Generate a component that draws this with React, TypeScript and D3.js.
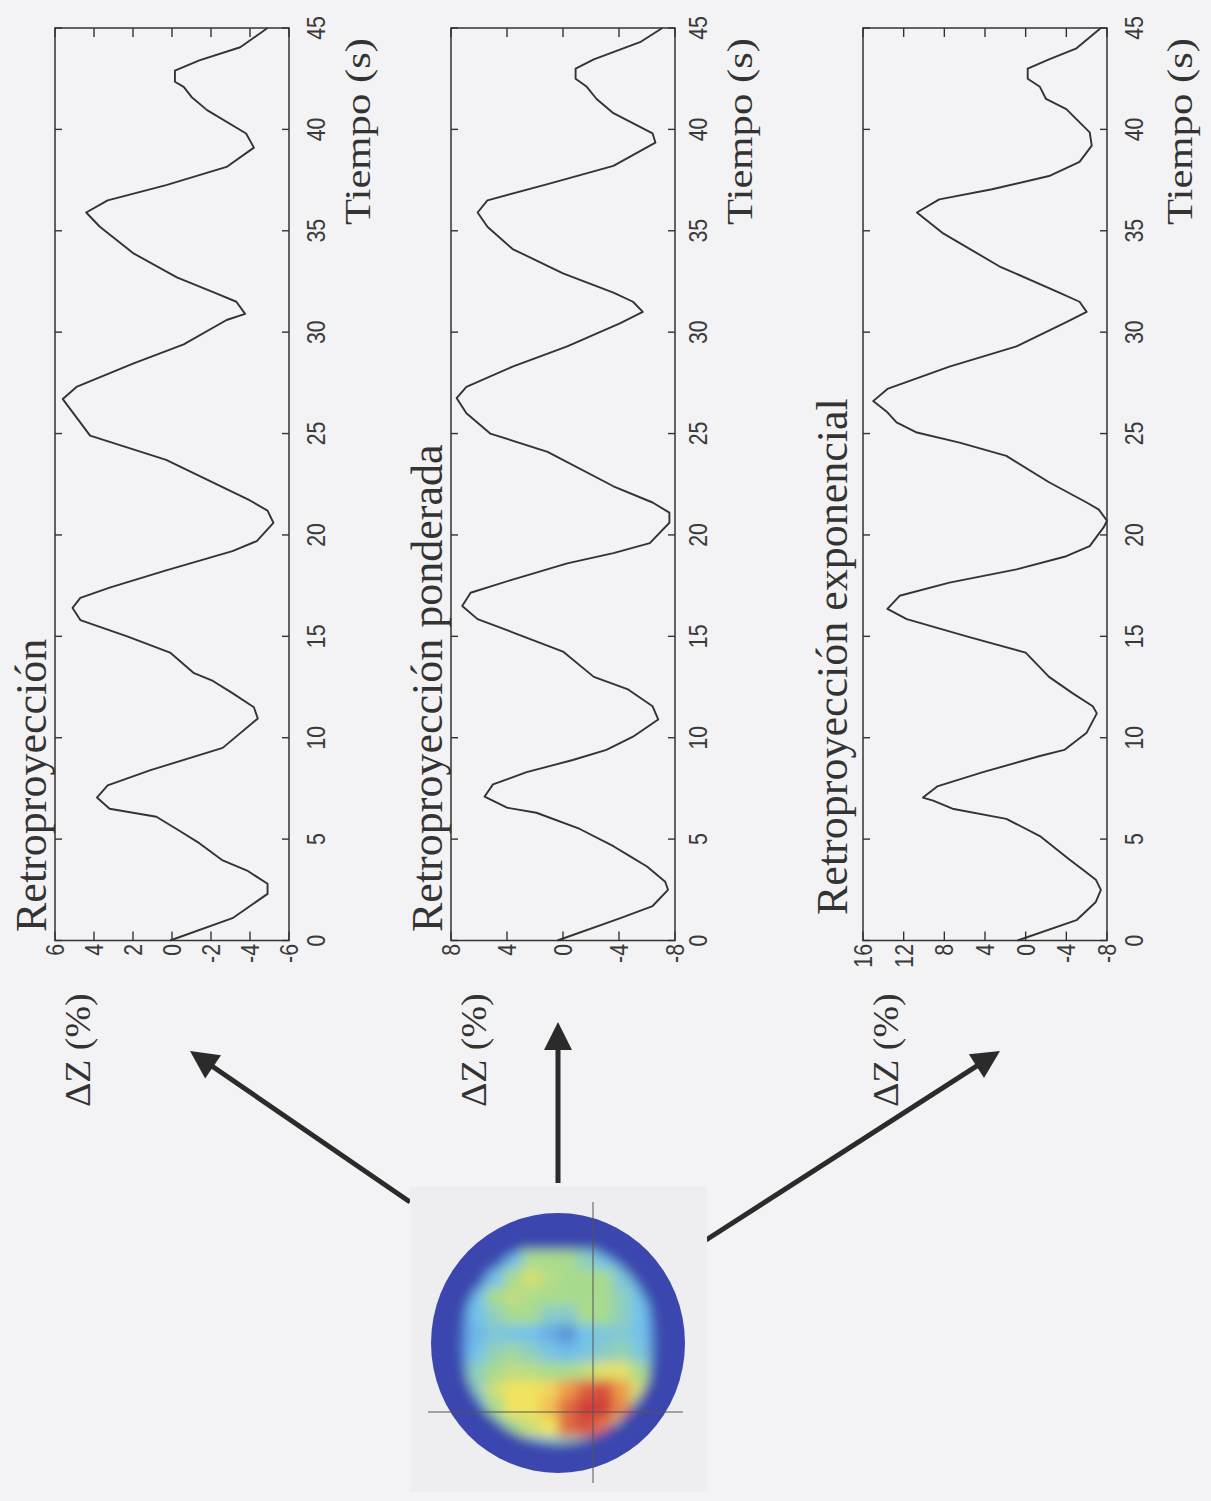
import React from "react";
import * as d3 from "d3";

// ---------- data ----------
const timeTicks = [0, 5, 10, 15, 20, 25, 30, 35, 40, 45];
const titles = ["Retroproyección", "Retroproyección ponderada", "Retroproyección exponencial"];
const yLabel = "ΔZ (%)";
const xLabel = "Tiempo (s)";

const ticks1 = [6, 4, 2, 0, -2, -4, -6];
const ticks2 = [8, 4, 0, -4, -8];
const ticks3 = [16, 12, 8, 4, 0, -4, -8];

const t1 = [0, 1.1, 2.3, 2.8, 3.45, 3.95, 4.8, 5.4, 6.1, 6.3, 6.5, 7.05, 7.65, 8.4, 9.5, 10.95, 11.5, 12.2, 12.8, 13.2, 14.2, 15.0, 15.8, 16.4, 16.9, 17.4, 18.25, 19.2, 19.7, 20.6, 21.2, 21.7, 23.7, 24.9, 25.8, 26.7, 27.3, 28.45, 29.4, 30.6, 30.9, 31.5, 31.9, 32.7, 33.9, 35.2, 35.9, 36.5, 37.25, 38.15, 39.1, 39.8, 40.95, 41.6, 42.1, 42.35, 42.9, 43.4, 44.05, 45];
const v1 = [0.1, -3.1, -4.9, -4.9, -3.85, -2.6, -1.4, -0.4, 0.8, 2.0, 3.2, 3.85, 3.3, 1.1, -2.6, -4.4, -4.2, -3.1, -2.1, -1.1, 0.1, 2.3, 4.7, 5.1, 4.7, 3.2, 0.3, -3.1, -4.35, -5.2, -4.9, -4.0, 0.3, 4.2, 4.9, 5.6, 4.9, 2.0, -0.6, -2.8, -3.75, -3.3, -2.3, -0.25, 2.0, 3.7, 4.4, 3.3, 0.3, -2.8, -4.2, -3.8, -1.8, -1.0, -0.6, -0.15, -0.15, -1.4, -3.5, -4.9];

const t2 = [0, 1.1, 1.7, 2.5, 2.9, 3.65, 4.15, 4.65, 5.5, 6.3, 6.55, 7.1, 7.7, 8.3, 8.9, 9.4, 10.05, 10.9, 11.55, 12.4, 13.0, 14.25, 15.2, 15.85, 16.5, 17.15, 17.8, 18.6, 19.1, 19.6, 20.6, 21.1, 21.6, 22.4, 24.1, 25.0, 26.0, 26.75, 27.3, 28.3, 29.3, 30.45, 31.0, 31.5, 31.95, 32.9, 34.1, 35.2, 35.9, 36.5, 37.3, 38.2, 39.35, 39.8, 40.8, 41.5, 42.1, 42.5, 43.0, 43.45, 44.3, 45];
const v2 = [0.4, -4.1, -6.4, -7.5, -7.3, -6.0, -4.8, -3.6, -1.2, 1.9, 4.0, 5.6, 5.0, 2.6, -0.7, -3.1, -5.0, -6.8, -6.4, -4.6, -2.2, 0.0, 3.6, 6.1, 7.2, 6.6, 3.6, -0.3, -3.6, -6.2, -7.6, -7.6, -6.4, -3.6, 1.1, 5.2, 6.9, 7.6, 6.9, 3.6, -0.3, -4.1, -5.7, -5.0, -3.6, 0.0, 3.6, 5.4, 6.1, 5.4, 1.1, -3.6, -6.6, -6.4, -3.6, -2.4, -1.7, -0.9, -0.9, -2.2, -5.5, -7.1];

const t3 = [0, 1.0, 1.9, 2.5, 3.0, 3.5, 4.0, 5.15, 6.0, 6.5, 6.9, 7.05, 7.6, 8.3, 9.1, 9.4, 10.25, 11.2, 11.55, 12.2, 13.0, 14.2, 15.0, 15.85, 16.35, 17.0, 17.65, 18.3, 18.95, 19.45, 20.4, 20.7, 21.25, 21.6, 22.6, 23.9, 24.55, 25.05, 25.55, 26.05, 26.6, 27.2, 28.3, 29.3, 30.5, 31.0, 31.5, 31.95, 33.25, 34.9, 35.9, 36.55, 37.05, 37.7, 38.4, 39.2, 39.85, 41.0, 41.5, 42.1, 42.5, 43.0, 43.45, 44.0, 45];
const v3 = [0.8, -5.0, -6.9, -7.4, -6.9, -5.6, -4.3, -1.4, 1.9, 7.2, 9.1, 10.1, 8.7, 4.2, -1.4, -3.8, -6.0, -7.0, -6.6, -4.6, -2.3, 0.0, 5.8, 11.7, 13.6, 12.4, 7.5, 0.9, -4.0, -6.3, -7.7, -8.0, -7.2, -6.0, -2.3, 1.9, 6.5, 10.7, 12.7, 13.6, 15.0, 13.6, 7.5, 0.9, -4.0, -6.0, -5.3, -3.3, 2.6, 8.2, 10.7, 8.5, 3.3, -2.3, -5.3, -6.5, -6.3, -4.0, -2.0, -1.4, -0.2, -0.2, -2.3, -5.0, -7.4];

// EIT image, coarse grid of colour levels (0 dark blue ... 6 red), rows top->bottom
const heatRows = [
  [0, 0, 0, 0, 0, 0, 0, 0, 0, 0, 0, 0, 0, 0],
  [0, 0, 0, 0, 0, 0, 0, 0, 0, 0, 0, 0, 0, 0],
  [0, 0, 0, 1, 2, 3, 3, 3, 2.5, 2, 2, 1, 0, 0],
  [0, 0, 1, 2, 3, 3.6, 3.2, 3, 3, 3, 2.2, 2, 0, 0],
  [0, 1, 2, 3, 3.3, 3.1, 3, 3, 3, 3, 2.5, 2, 1, 0],
  [0, 1, 2, 2.5, 3, 3, 2.4, 2.3, 3, 3, 2.5, 2, 1, 0],
  [0, 1, 1.8, 2.2, 2.1, 2, 1.7, 1.3, 2, 2.2, 2.3, 2, 1, 0],
  [0, 1, 2, 2.6, 2.8, 2.5, 2.1, 1.9, 2.1, 2.4, 2.6, 2.2, 1, 0],
  [0, 1, 2.5, 3, 3.3, 3.2, 3, 3, 3.3, 3.8, 3.8, 3, 1, 0],
  [0, 1, 2.5, 3.5, 4, 4, 4.2, 5, 5.6, 5.8, 5, 3.6, 1, 0],
  [0, 0.8, 2, 3, 4, 4, 4.5, 5.5, 6, 6, 5.2, 3, 1, 0],
  [0, 0.5, 1.5, 2.3, 3, 3.5, 4, 5.5, 5.8, 5.4, 3.6, 2, 0.5, 0],
  [0, 0, 0.5, 1, 1.8, 2, 2.3, 2.6, 2.6, 2.3, 1.5, 1, 0, 0],
  [0, 0, 0, 0, 0, 0, 0, 0, 0, 0, 0, 0, 0, 0],
];
const heatLevels = [0, 1, 2, 3, 4, 5, 6];
const heatColors = ["#3b47ae", "#4f80d4", "#74c2ec", "#a9db8e", "#f1e35e", "#ee9c4a", "#d23c3a"];

// ---------- layout ----------
const W = 1211;
const H = 1501;
const BG = "#f3f3f5";
const INK = "#333";
const panels = [
  { T: t1, V: v1, ticks: ticks1, domain: [6, -6], x0: 55, x1: 289, titleX: 46, titleY: 932, tickLblX: 324, xLblX: 370, yLblX: 90 },
  { T: t2, V: v2, ticks: ticks2, domain: [8, -8], x0: 451, x1: 675, titleX: 442, titleY: 932, tickLblX: 706, xLblX: 752, yLblX: 486 },
  { T: t3, V: v3, ticks: ticks3, domain: [16, -8], x0: 863, x1: 1107, titleX: 847, titleY: 915, tickLblX: 1142, xLblX: 1192, yLblX: 898 },
];
const TOP = 28;
const BOTTOM = 940.5;
const arrows = [
  { x1: 410, y1: 1202, x2: 190, y2: 1051 },
  { x1: 558, y1: 1183, x2: 558, y2: 1022 },
  { x1: 706, y1: 1240, x2: 1000, y2: 1051 },
];
const eit = { cx: 558, cy: 1343, rx: 127, ry: 130, vx: 593, hy: 1412 };

const SANS = "'Liberation Sans', Arial, Helvetica, sans-serif";
const SERIF = "'Liberation Serif', 'Times New Roman', serif";
const TICK_SIZE = 25;

const ts = d3.scaleLinear().domain([0, 45]).range([BOTTOM, TOP]);

function RText(props: any) {
  const { x, y, anchor = "start", size, family, sx = 1, fill = INK, children } = props;
  return (
    <text
      transform={`translate(${x},${y}) rotate(-90) scale(${sx},1)`}
      textAnchor={anchor}
      fontSize={size}
      fontFamily={family}
      fill={fill}
    >
      {children}
    </text>
  );
}

function Panel({ i }: { i: number }) {
  const P = panels[i];
  const vs = d3.scaleLinear().domain(P.domain).range([P.x0, P.x1]);
  const pts: [number, number][] = P.T.map((t, k) => [t, P.V[k]]);
  const line = d3
    .line<[number, number]>()
    .x((d) => vs(d[1]))
    .y((d) => ts(d[0]))
    .curve(d3.curveLinear);
  const TL = 9;
  const TT = 7;
  return (
    <g>
      <defs>
        <clipPath id={`clip${i}`}>
          <rect x={P.x0 - 3} y={TOP - 2} width={P.x1 - P.x0 + 6} height={BOTTOM - TOP + 4} />
        </clipPath>
      </defs>
      {P.ticks.map((v) => (
        <g key={"v" + v}>
          <line x1={vs(v)} x2={vs(v)} y1={TOP} y2={TOP + TL} stroke={INK} strokeWidth={1.4} />
          <line x1={vs(v)} x2={vs(v)} y1={BOTTOM} y2={BOTTOM - TL} stroke={INK} strokeWidth={1.4} />
        </g>
      ))}
      {timeTicks.map((t) => (
        <g key={"t" + t}>
          <line x1={P.x0} x2={P.x0 + TT} y1={ts(t)} y2={ts(t)} stroke={INK} strokeWidth={1.4} />
          <line x1={P.x1} x2={P.x1 - TT} y1={ts(t)} y2={ts(t)} stroke={INK} strokeWidth={1.4} />
        </g>
      ))}
      <rect x={P.x0} y={TOP} width={P.x1 - P.x0} height={BOTTOM - TOP} fill="none" stroke={INK} strokeWidth={1.5} />
      <path d={line(pts) || ""} fill="none" stroke={INK} strokeWidth={1.9} strokeLinejoin="round" clipPath={`url(#clip${i})`} />
      {P.ticks.map((v) => (
        <RText key={"vl" + v} x={vs(v) + 9} y={944} anchor="end" size={TICK_SIZE} family={SANS} sx={0.85} fill="#3a3a3a">
          {String(v)}
        </RText>
      ))}
      {timeTicks.map((t) => (
        <RText key={"tl" + t} x={P.tickLblX + 1} y={ts(t)} anchor="middle" size={TICK_SIZE} family={SANS} sx={0.85} fill="#3a3a3a">
          {String(t)}
        </RText>
      ))}
      <RText x={P.titleX} y={P.titleY} anchor="start" size={44} family={SERIF}>
        {titles[i]}
      </RText>
      <RText x={P.xLblX} y={38} anchor="end" size={35} family={SERIF} sx={1.22}>
        {xLabel}
      </RText>
      <RText x={P.yLblX} y={1107} anchor="start" size={36} family={SERIF} sx={1.05}>
        {yLabel}
      </RText>
    </g>
  );
}

function Arrow({ a }: { a: { x1: number; y1: number; x2: number; y2: number } }) {
  const dx = a.x2 - a.x1;
  const dy = a.y2 - a.y1;
  const len = Math.hypot(dx, dy);
  const ux = dx / len;
  const uy = dy / len;
  const hl = 28;
  const hw = 14;
  const bx = a.x2 - ux * hl;
  const by = a.y2 - uy * hl;
  const pts = [
    [a.x2, a.y2],
    [bx - uy * hw, by + ux * hw],
    [bx + uy * hw, by - ux * hw],
  ];
  return (
    <g>
      <line x1={a.x1} y1={a.y1} x2={bx + ux * 2} y2={by + uy * 2} stroke="#2b2b2b" strokeWidth={5} />
      <polygon points={pts.map((p) => p.join(",")).join(" ")} fill="#2b2b2b" />
    </g>
  );
}

function EIT() {
  const nR = heatRows.length;
  const nC = heatRows[0].length;
  const xb = d3.scaleBand<number>().domain(d3.range(nC)).range([eit.cx - eit.rx, eit.cx + eit.rx]);
  const yb = d3.scaleBand<number>().domain(d3.range(nR)).range([eit.cy - eit.ry, eit.cy + eit.ry]);
  const color = d3.scaleLinear<string>().domain(heatLevels).range(heatColors).interpolate(d3.interpolateRgb);
  return (
    <g>
      <defs>
        <clipPath id="eitclip">
          <ellipse cx={eit.cx} cy={eit.cy} rx={eit.rx} ry={eit.ry} />
        </clipPath>
        <filter id="eitblur" x={eit.cx - 200} y={eit.cy - 200} width={400} height={400} filterUnits="userSpaceOnUse">
          <feGaussianBlur stdDeviation={6} />
        </filter>
      </defs>
      <rect x={410} y={1187} width={297} height={305} fill="#eeeef0" />
      <g clipPath="url(#eitclip)">
        <g filter="url(#eitblur)">
          <rect x={eit.cx - eit.rx - 20} y={eit.cy - eit.ry - 20} width={2 * eit.rx + 40} height={2 * eit.ry + 40} fill={heatColors[0]} />
          {heatRows.map((row, r) =>
            row.map((v, c) => (
              <rect key={r + "-" + c} x={xb(c)} y={yb(r)} width={xb.bandwidth() + 0.5} height={yb.bandwidth() + 0.5} fill={color(v)} />
            ))
          )}
          <ellipse cx={eit.cx} cy={eit.cy} rx={eit.rx} ry={eit.ry} fill="none" stroke={heatColors[0]} strokeWidth={60} />
        </g>
      </g>
      <line x1={eit.vx} x2={eit.vx} y1={1202} y2={1483} stroke="#555" strokeWidth={1} />
      <line x1={428} x2={683} y1={eit.hy} y2={eit.hy} stroke="#555" strokeWidth={1} />
    </g>
  );
}

export default function App() {
  return (
    <svg
      width={W}
      height={H}
      viewBox={`0 0 ${W} ${H}`}
      style={{ position: "absolute", left: 0, top: 0, display: "block" }}
    >
      <rect x={0} y={0} width={W} height={H} fill={BG} />
      {panels.map((_, i) => (
        <Panel key={i} i={i} />
      ))}
      {arrows.map((a, i) => (
        <Arrow key={i} a={a} />
      ))}
      <EIT />
    </svg>
  );
}
